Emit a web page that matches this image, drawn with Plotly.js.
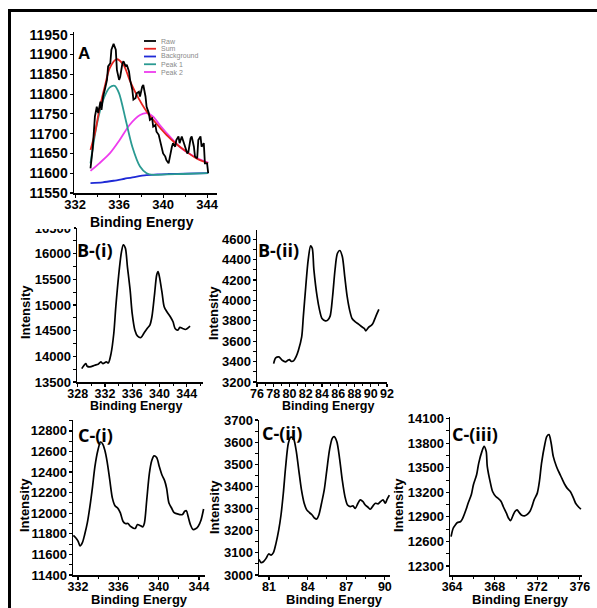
<!DOCTYPE html>
<html>
<head>
<meta charset="utf-8">
<script src="https://cdn.plot.ly/plotly-3.0.1.min.js"></script>
<style>html,body{margin:0;padding:0;background:#fff;}#chart{width:597px;height:608px;}</style>
</head>
<body>
<div id="chart"></div>
<script>
// ---------- Panel A: fitted spectrum ----------
const aRawX = [333.4,333.6,333.8,333.97,334.1,334.3,334.4,334.55,334.7,334.9,335.0,335.2,335.3,335.5,335.7,335.8,336.0,336.1,336.3,336.4,336.6,336.7,336.9,337.0,337.2,337.3,337.5,337.6,337.8,337.9,338.1,338.2,338.4,338.5,338.7,338.8,339.0,339.1,339.3,339.4,339.6,339.7,339.9,340.0,340.2,340.3,340.5,340.6,340.8,340.9,341.1,341.2,341.4,341.5,341.7,341.8,342.0,342.2,342.3,342.5,342.6,342.8,342.9,343.1,343.2,343.4,343.5,343.7,343.8,344.0,344.1];
const aRawY = [11612,11663,11743,11768,11752,11781,11760,11794,11811,11836,11870,11878,11912,11927,11912,11861,11836,11844,11878,11883,11870,11874,11857,11836,11811,11786,11790,11802,11806,11794,11819,11823,11794,11768,11752,11735,11739,11718,11722,11705,11697,11684,11663,11650,11642,11633,11625,11642,11667,11676,11667,11684,11693,11676,11693,11684,11667,11650,11654,11688,11693,11667,11642,11638,11684,11693,11667,11676,11625,11625,11600];
const aSumX = [333.4,333.8,334.2,334.7,335.15,335.76,336.4,336.95,337.6,338.5,339.4,340.3,341.2,342.1,343.0,344.1];
const aSumY = [11659,11701,11760,11819,11866,11888,11874,11836,11798,11756,11725,11697,11674,11655,11638,11625];
const aBgX = [333.4,334.5,335.5,336.5,337.5,338.5,339.5,340.5,342.0,344.1];
const aBgY = [11575,11577,11581,11586,11591,11595,11597,11598,11599,11600];
const aP1X = [333.4,333.94,334.55,335.15,335.6,336.0,336.6,337.2,337.9,338.5,339.1,340.3,341.8,344.1];
const aP1Y = [11625,11718,11785,11817,11821,11802,11735,11667,11617,11600,11596,11597,11598,11600];
const aP2X = [333.4,334.2,335.15,336.05,336.95,337.9,338.5,339.1,339.7,340.6,341.5,342.4,343.3,344.1];
const aP2Y = [11606,11625,11650,11684,11722,11747,11752,11743,11722,11693,11667,11649,11635,11627];
const aSeriesNames = ["Raw","Sum","Background","Peak 1","Peak 2"];
const aSeriesColors = ["#000000","#e8231f","#1f2ad6","#2a9a92","#ee3cee"];

// ---------- Panel B-(i) ----------
const b1X = [328.6,329.2,329.4,329.8,330.5,331.0,331.4,331.7,332.2,332.5,332.9,333.3,333.6,334.0,334.4,334.7,335.0,335.3,335.7,336.0,336.4,336.8,337.3,337.7,338.2,338.6,338.9,339.3,339.6,339.8,340.0,340.4,340.7,341.1,341.6,342.0,342.3,342.7,343.0,343.4,343.8,344.1,344.5];
const b1Y = [13761,13858,13806,13793,13826,13845,13891,13858,13891,13872,14054,14445,14967,15553,16010,16173,16108,15749,15293,14837,14510,14393,14367,14445,14543,14608,14771,15228,15586,15651,15553,15228,14967,14869,14771,14673,14543,14510,14563,14543,14523,14543,14589];

// ---------- Panel B-(ii) ----------
const b2X = [78.05,78.3,78.7,79.1,79.5,79.8,80.0,80.2,80.5,80.8,81.1,81.5,81.7,82.0,82.3,82.6,82.8,83.0,83.4,83.7,84.0,84.4,84.7,85.0,85.3,85.6,85.9,86.2,86.5,86.8,87.1,87.4,87.7,88.1,88.5,88.9,89.2,89.4,89.7,90.1,90.3,90.6,91.0];
const b2Y = [3380,3436,3446,3413,3397,3413,3420,3403,3407,3446,3512,3643,3839,4134,4397,4534,4511,4302,4036,3905,3823,3800,3807,3846,4036,4298,4462,4489,4430,4233,4036,3905,3823,3790,3767,3741,3725,3702,3734,3757,3780,3839,3911];

// ---------- Panel C-(i) ----------
const c1X = [331.54,331.77,332.0,332.2,332.43,332.66,332.92,333.18,333.44,333.67,333.97,334.23,334.43,334.66,334.89,335.15,335.41,335.67,335.93,336.2,336.46,336.69,336.95,337.18,337.44,337.67,337.9,338.16,338.43,338.59,338.82,339.08,339.31,339.54,339.8,340.07,340.33,340.59,340.79,341.02,341.28,341.51,341.77,342.1,342.36,342.59,342.75,342.92,343.15,343.41,343.67,343.93,344.2,344.46];
const c1Y = [11785,11762,11730,11682,11714,11794,11906,12067,12259,12451,12612,12692,12676,12612,12500,12323,12147,12073,12051,12003,11922,11900,11900,11874,11858,11852,11890,11881,11868,11906,12131,12387,12509,12557,12541,12451,12371,12317,12243,12099,12051,12009,11996,11987,11987,12019,12025,11971,11890,11842,11849,11874,11932,12041];

// ---------- Panel C-(ii) ----------
const c2X = [80.22,80.38,80.56,80.77,80.97,81.16,81.34,81.54,81.75,81.93,82.11,82.29,82.5,82.68,82.89,83.1,83.31,83.52,83.73,83.93,84.14,84.35,84.56,84.71,84.87,85.08,85.29,85.49,85.7,85.91,86.06,86.27,86.48,86.69,86.9,87.1,87.31,87.52,87.7,87.91,88.09,88.3,88.48,88.69,88.87,89.08,89.26,89.47,89.65,89.86,90.04,90.17,90.35];
const c2Y = [3071,3056,3060,3075,3095,3090,3101,3143,3203,3271,3369,3489,3595,3622,3617,3565,3474,3384,3324,3294,3282,3271,3256,3253,3271,3324,3384,3474,3565,3617,3625,3602,3527,3429,3354,3316,3309,3312,3301,3324,3339,3331,3316,3306,3297,3312,3324,3321,3331,3339,3324,3342,3361];

// ---------- Panel C-(iii) ----------
const c3X = [363.9,364.1,364.3,364.5,364.8,365.0,365.3,365.5,365.8,366.0,366.3,366.5,366.8,367.0,367.2,367.3,367.6,367.8,368.1,368.3,368.6,368.8,369.1,369.3,369.5,369.7,369.9,370.1,370.3,370.5,370.8,371.0,371.3,371.5,371.7,372.0,372.2,372.4,372.7,372.9,373.1,373.3,373.5,373.8,374.0,374.3,374.6,374.8,375.1,375.4,375.6,375.9,376.1];
const c3Y = [12659,12761,12802,12831,12843,12884,12986,13067,13169,13292,13414,13557,13700,13761,13700,13516,13312,13210,13149,13129,13088,13027,12945,12884,12855,12912,12965,12986,12953,12924,12912,12924,12965,13027,13108,13190,13333,13557,13781,13883,13904,13802,13639,13516,13455,13373,13292,13251,13210,13129,13067,13018,12994];

const panelLabels = ["A","B-(i)","B-(ii)","C-(i)","C-(ii)","C-(iii)"];
const xTitle = "Binding Energy";
const yTitle = "Intensity";

// ---------- helpers ----------
const W = 597, H = 608;
const px = v => v / W;
const py = v => 1 - v / H;
const FONT = "Liberation Sans, Arial, sans-serif";

function tf(size) { return {family: FONT, size: size, color: "#000", weight: 700}; }
function axis(extra, isX) {
  return Object.assign({
    showline: true, linecolor: "#000", linewidth: 1.5,
    ticks: "outside", ticklen: 3, tickwidth: 1.2, tickcolor: "#000",
    showgrid: false, zeroline: false, fixedrange: true,
    tickformat: "d", exponentformat: "none", separatethousands: false,
    tickangle: 0, ticklabelstandoff: isX ? -4 : -1,
    tickfont: tf(isX ? 12.5 : 13)
  }, extra);
}
function mnr(d) { return {ticks: "outside", ticklen: 2.5, tickwidth: 1, dtick: d, tickcolor: "#000", showgrid: false}; }
function line(x, y, xa, ya, color, width, shape) {
  return {x: x, y: y, xaxis: xa, yaxis: ya, type: "scatter", mode: "lines",
          line: {color: color, width: width, shape: shape || "linear", smoothing: 0.8},
          hoverinfo: "skip", showlegend: false};
}

const aXs = [aRawX, aSumX, aBgX, aP1X, aP2X];
const aYs = [aRawY, aSumY, aBgY, aP1Y, aP2Y];
const traces = [];
[2, 4, 3, 1, 0].forEach(i => {
  traces.push(line(aXs[i], aYs[i], "x", "y", aSeriesColors[i], 1.8, i === 0 ? "linear" : "spline"));
});
traces.push(line(b1X, b1Y, "x2", "y2", "#000", 1.7, "spline"));
traces.push(line(b2X, b2Y, "x3", "y3", "#000", 1.7, "spline"));
traces.push(line(c1X, c1Y, "x4", "y4", "#000", 1.7, "spline"));
traces.push(line(c2X, c2Y, "x5", "y5", "#000", 1.7, "spline"));
traces.push(line(c3X, c3Y, "x6", "y6", "#000", 1.7, "spline"));

const layout = {
  width: W, height: H,
  margin: {l: 0, r: 0, t: 0, b: 0},
  paper_bgcolor: "#fff", plot_bgcolor: "rgba(0,0,0,0)",
  showlegend: false,
  // A
  xaxis: axis({domain: [px(74), px(217)], range: [331.9, 344.9], anchor: "y",
               tick0: 332, dtick: 4, minor: mnr(2), tickfont: tf(13)}, true),
  yaxis: axis({domain: [py(193), py(32)], range: [11550, 11957], anchor: "x",
               tick0: 11550, dtick: 50, tickfont: tf(14)}),
  // B-(i)
  xaxis2: axis({domain: [px(77), px(203)], range: [327.9, 346.4], anchor: "y2",
                tick0: 328, dtick: 4, minor: mnr(2)}, true),
  yaxis2: axis({domain: [py(382), py(228)], range: [13500, 16500], anchor: "x2",
                tick0: 13500, dtick: 500, minor: mnr(250)}),
  // B-(ii)
  xaxis3: axis({domain: [px(257), px(387)], range: [76, 92], anchor: "y3",
                tick0: 76, dtick: 2, minor: mnr(1)}, true),
  yaxis3: axis({domain: [py(382), py(230)], range: [3200, 4690], anchor: "x3",
                tick0: 3200, dtick: 200, minor: mnr(100)}),
  // C-(i)
  xaxis4: axis({domain: [px(73), px(205)], range: [331.5, 344.6], anchor: "y4",
                tick0: 332, dtick: 4, minor: mnr(2)}, true),
  yaxis4: axis({domain: [py(575), py(420)], range: [11400, 12906], anchor: "x4",
                tick0: 11400, dtick: 200, minor: mnr(100)}),
  // C-(ii)
  xaxis5: axis({domain: [px(259), px(390)], range: [80.22, 90.4], anchor: "y5",
                tick0: 81, dtick: 3, minor: mnr(1.5)}, true),
  yaxis5: axis({domain: [py(575), py(420)], range: [3000, 3700], anchor: "x5",
                tick0: 3000, dtick: 100, minor: mnr(50)}),
  // C-(iii)
  xaxis6: axis({domain: [px(450), px(582)], range: [363.8, 376.2], anchor: "y6",
                tick0: 364, dtick: 4, minor: mnr(2)}, true),
  yaxis6: axis({domain: [py(575), py(417)], range: [12190, 14120], anchor: "x6",
                tick0: 12300, dtick: 300, minor: mnr(150)}),
  shapes: [],
  annotations: []
};

// outer frame (left and top edges)
layout.shapes.push({type: "line", xref: "paper", yref: "paper", x0: px(9.5), x1: px(9.5), y0: 0, y1: py(10), line: {color: "#000", width: 3}, layer: "above"});
layout.shapes.push({type: "line", xref: "paper", yref: "paper", x0: px(8), x1: 1, y0: py(10.5), y1: py(10.5), line: {color: "#000", width: 3}, layer: "above"});
// partially hidden top tick label of B-(i)
layout.shapes.push({type: "rect", xref: "paper", yref: "paper", x0: px(25), x1: px(74), y0: py(229), y1: py(214), fillcolor: "#fff", line: {width: 0}, layer: "above"});

// legend for panel A
aSeriesNames.forEach((name, i) => {
  const yy = 41 + i * 7.75;
  layout.shapes.push({type: "line", xref: "paper", yref: "paper", x0: px(144), x1: px(156), y0: py(yy), y1: py(yy),
                      line: {color: aSeriesColors[i], width: 1.8}, layer: "above"});
  layout.annotations.push({xref: "paper", yref: "paper", x: px(159), y: py(yy), xanchor: "left", yanchor: "middle",
                           text: name, showarrow: false, font: {family: FONT, size: 7, color: "#8a8a8a"}});
});

// axis titles
const xTitlePos = [[142, 222, 14], [136, 406, 12.5], [328, 406, 12.5], [139, 599.5, 13], [335, 599.5, 13], [520, 599.5, 13]];
xTitlePos.forEach(p => layout.annotations.push({xref: "paper", yref: "paper", x: px(p[0]), y: py(p[1]),
  xanchor: "center", yanchor: "middle", text: xTitle, showarrow: false,
  font: {family: FONT, size: p[2], color: "#000", weight: 700}}));
const yTitlePos = [[25, 312], [213, 313], [24, 505], [214, 507], [398, 505]];
yTitlePos.forEach(p => layout.annotations.push({xref: "paper", yref: "paper", x: px(p[0]), y: py(p[1]),
  xanchor: "center", yanchor: "middle", text: yTitle, textangle: -90, showarrow: false,
  font: {family: FONT, size: 13, color: "#000", weight: 700}}));

// panel labels
const OS = "Open Sans, sans-serif";
const labelPos = [[84, 53, 17, FONT], [95, 250, 18, OS], [278, 250, 18, OS], [95, 435, 18, OS], [282, 433, 18, OS], [475, 434, 18, OS]];
panelLabels.forEach((t, i) => layout.annotations.push({xref: "paper", yref: "paper", x: px(labelPos[i][0]), y: py(labelPos[i][1]),
  xanchor: "center", yanchor: "middle", text: t, showarrow: false,
  font: {family: labelPos[i][3], size: labelPos[i][2], color: "#000", weight: 700}}));

Plotly.newPlot("chart", traces, layout, {staticPlot: true, displayModeBar: false});
</script>
</body>
</html>
